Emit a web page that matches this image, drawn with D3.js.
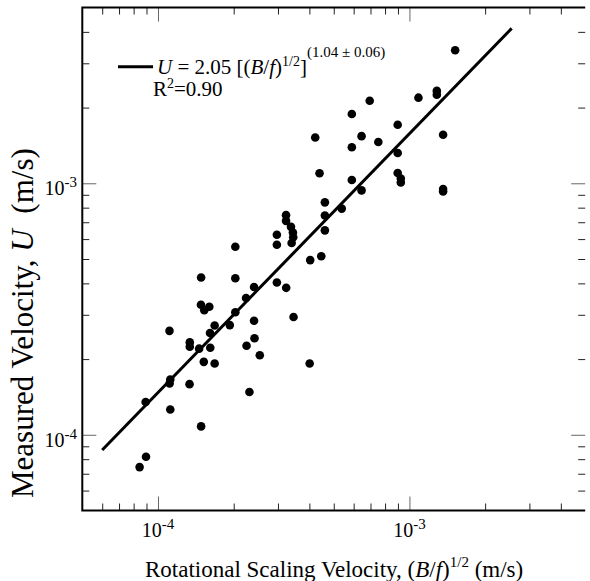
<!DOCTYPE html>
<html>
<head>
<meta charset="utf-8">
<script src="https://cdnjs.cloudflare.com/ajax/libs/d3/7.8.5/d3.min.js"></script>
<style>
  body { margin: 0; background: #fff; }
  text { font-family: "Liberation Serif", "Times New Roman", serif; fill: #000; }
</style>
</head>
<body>
<svg width="590" height="581"></svg>
<script>
// rotational scaling velocity (B/f)^1/2, m/s
var bfVel = [1.52e-3, 1.285e-3, 1.285e-3, 1.086e-3, 6.95e-4, 5.90e-4, 8.98e-4, 1.361e-3, 4.22e-4, 6.45e-4,
             7.52e-4, 5.90e-4, 8.98e-4, 4.39e-4, 8.98e-4, 9.24e-4, 9.24e-4, 5.90e-4, 6.45e-4, 1.361e-3,
             1.361e-3, 4.61e-4, 5.38e-4, 4.61e-4, 4.61e-4, 3.23e-4, 3.23e-4, 3.38e-4, 3.44e-4, 3.45e-4,
             3.40e-4, 2.97e-4, 2.97e-4, 2.03e-4, 4.03e-4, 4.46e-4, 1.484e-4, 2.03e-4, 2.97e-4, 3.235e-4,
             2.41e-4, 2.24e-4, 1.482e-4, 1.60e-4, 1.528e-4, 2.03e-4, 3.46e-4, 2.41e-4, 1.68e-4, 1.93e-4,
             1.111e-4, 1.61e-4, 2.42e-4, 1.338e-4, 1.338e-4, 1.457e-4, 1.614e-4, 2.25e-4, 2.54e-4, 1.521e-4,
             1.68e-4, 4.01e-4, 1.119e-4, 1.112e-4, 1.335e-4, 2.31e-4, 8.93e-5, 1.119e-4, 1.484e-4, 8.96e-5,
             8.45e-5];
// measured velocity U, m/s
var measVel = [3.38e-3, 2.33e-3, 2.25e-3, 2.19e-3, 2.13e-3, 1.885e-3, 1.71e-3, 1.56e-3, 1.52e-3, 1.54e-3,
               1.46e-3, 1.39e-3, 1.32e-3, 1.096e-3, 1.098e-3, 1.045e-3, 1.007e-3, 1.031e-3, 9.37e-4, 9.49e-4,
               9.28e-4, 8.40e-4, 7.93e-4, 7.45e-4, 6.50e-4, 7.47e-4, 7.09e-4, 6.71e-4, 6.37e-4, 6.10e-4,
               5.79e-4, 6.24e-4, 5.70e-4, 5.59e-4, 4.95e-4, 5.13e-4, 4.22e-4, 4.19e-4, 4.03e-4, 3.84e-4,
               3.87e-4, 3.50e-4, 3.29e-4, 3.23e-4, 3.13e-4, 3.07e-4, 2.94e-4, 2.84e-4, 2.72e-4, 2.73e-4,
               2.59e-4, 2.54e-4, 2.42e-4, 2.33e-4, 2.24e-4, 2.20e-4, 2.22e-4, 2.26e-4, 2.07e-4, 1.95e-4,
               1.92e-4, 1.92e-4, 1.66e-4, 1.60e-4, 1.59e-4, 1.48e-4, 1.35e-4, 1.26e-4, 1.08e-4, 8.18e-5,
               7.44e-5];

// fitted power law, end points of the drawn line
var fitX = [6.0e-5, 2.55e-3];
var fitY = [8.7e-5, 4.13e-3];

var majorTicks = [1e-4, 1e-3];
var majorExp = ["-4", "-3"];

var svg = d3.select("svg");

var x = d3.scaleLog().domain([5e-5, 5e-3]).range([82.3, 585.2]);
var y = d3.scaleLog().domain([5e-5, 5e-3]).range([510.5, 7.5]);

var minorTicks = x.ticks().filter(function(v) {
  var m = Math.round(v / Math.pow(10, Math.floor(Math.log10(v) + 1e-9)));
  return m != 1 && v > 5.01e-5 && v < 4.99e-3;
});

function tickAxis(axis, tr, col) {
  var g = svg.append("g").attr("transform", tr).call(axis);
  g.select(".domain").remove();
  g.selectAll("text").remove();
  g.selectAll("line").attr("stroke", col).attr("stroke-width", 1);
  return g;
}

// ticks point into the frame on all four sides
[[minorTicks, 7, "#222"], [majorTicks, 14, "#666"]].forEach(function(t) {
  tickAxis(d3.axisTop(x).tickValues(t[0]).tickSize(t[1]), "translate(0,510.5)", t[2]);
  tickAxis(d3.axisBottom(x).tickValues(t[0]).tickSize(t[1]), "translate(0,7.5)", t[2]);
  tickAxis(d3.axisRight(y).tickValues(t[0]).tickSize(t[1]), "translate(82.3,0)", t[2]);
  tickAxis(d3.axisLeft(y).tickValues(t[0]).tickSize(t[1]), "translate(585.2,0)", t[2]);
});

// frame: left, top, bottom (right side is open)
svg.append("path")
  .attr("d", "M585.2,7.5H82.3V510.5H585.2")
  .attr("fill", "none")
  .attr("stroke", "#000")
  .attr("stroke-width", 2);

// tick labels 10^n
var xl = svg.append("g").selectAll("text").data(majorTicks).enter().append("text")
  .attr("x", function(d) { return x(d); })
  .attr("y", 536.7)
  .attr("text-anchor", "middle")
  .attr("font-size", 20);
xl.append("tspan").text("10");
xl.append("tspan").attr("dy", -8).attr("font-size", 15).text(function(d, i) { return majorExp[i]; });

var yl = svg.append("g").selectAll("text").data(majorTicks).enter().append("text")
  .attr("x", 77)
  .attr("y", function(d) { return y(d) + 12; })
  .attr("text-anchor", "end")
  .attr("font-size", 20);
yl.append("tspan").text("10");
yl.append("tspan").attr("dy", -8).attr("font-size", 15).text(function(d, i) { return majorExp[i]; });

// fit line
svg.append("path")
  .datum(fitX.map(function(v, i) { return [v, fitY[i]]; }))
  .attr("d", d3.line().x(function(d) { return x(d[0]); }).y(function(d) { return y(d[1]); }))
  .attr("fill", "none")
  .attr("stroke", "#000")
  .attr("stroke-width", 3);

// data points
svg.append("g").selectAll("circle")
  .data(bfVel)
  .enter().append("circle")
  .attr("cx", function(d) { return x(d); })
  .attr("cy", function(d, i) { return y(measVel[i]); })
  .attr("r", 4.3)
  .attr("fill", "#000");

// legend
svg.append("line")
  .attr("x1", 118).attr("x2", 153)
  .attr("y1", 66.7).attr("y2", 66.7)
  .attr("stroke", "#000").attr("stroke-width", 3);

var lt = svg.append("text").attr("x", 157).attr("y", 74).attr("font-size", 21);
lt.append("tspan").attr("font-style", "italic").text("U");
lt.append("tspan").text(" = 2.05 [(");
lt.append("tspan").attr("font-style", "italic").text("B");
lt.append("tspan").text("/");
lt.append("tspan").attr("font-style", "italic").text("f");
lt.append("tspan").text(")");
lt.append("tspan").attr("dy", -8).attr("font-size", 14).text("1/2");
lt.append("tspan").attr("dy", 8).text("]");
lt.append("tspan").attr("dy", -17).attr("font-size", 15).text("(1.04 \u00b1 0.06)");

var rt = svg.append("text").attr("x", 153).attr("y", 96).attr("font-size", 21);
rt.append("tspan").text("R");
rt.append("tspan").attr("dy", -8).attr("font-size", 14).text("2");
rt.append("tspan").attr("dy", 8).text("=0.90");

// axis titles
var xt = svg.append("text").attr("x", 145).attr("y", 576.7).attr("font-size", 23);
xt.append("tspan").text("Rotational Scaling Velocity, (");
xt.append("tspan").attr("font-style", "italic").text("B");
xt.append("tspan").text("/");
xt.append("tspan").attr("font-style", "italic").text("f");
xt.append("tspan").text(")");
xt.append("tspan").attr("dy", -10).attr("font-size", 15).text("1/2");
xt.append("tspan").attr("dy", 10).text(" (m/s)");

var yt = svg.append("text")
  .attr("transform", "translate(33,498) rotate(-90)")
  .attr("font-size", 31);
yt.append("tspan").text("Measured Velocity, ");
yt.append("tspan").attr("font-style", "italic").text("U");
yt.append("tspan").attr("dx", 8).text(" (m/s)");
</script>
</body>
</html>
